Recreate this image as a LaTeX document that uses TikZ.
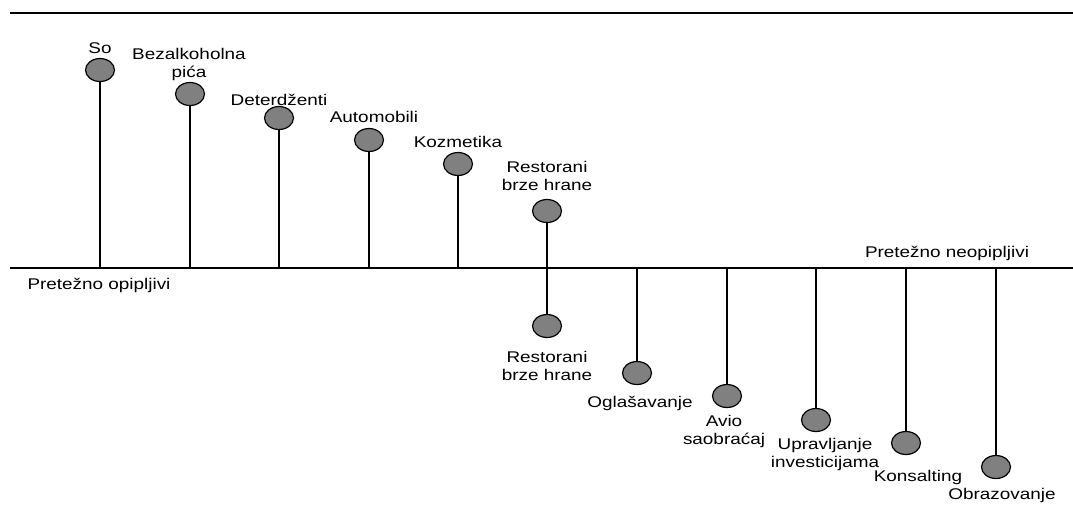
\documentclass[tikz,border=0pt]{standalone}
\usepackage{fontspec}
\setmainfont{Liberation Sans}
\usetikzlibrary{shapes.geometric}
\newcommand\sx[1]{\scalebox{1.22}[1]{#1}}
\begin{document}
\begin{tikzpicture}[x=1pt,y=-1pt,
  dot/.style={ellipse,draw=black,fill=gray,line width=1.2pt,minimum width=29pt,minimum height=23pt,inner sep=0pt},
  lab/.style={inner sep=0pt,font=\fontsize{15.5}{18}\selectfont,align=center},
  stem/.style={line width=1.2pt}]
\useasboundingbox (0,0) rectangle (1073,515);
% frame lines
\coordinate (tl) at (10,13);
\coordinate (tr) at (1073,13);
\coordinate (al) at (10,268);
\coordinate (ar) at (1073,268);
\draw[stem] (tl) -- (tr);
\draw[stem] (al) -- (ar);
% upper items
\foreach \n/\x/\y in {1/100/70,2/190/94,3/279/118,4/369/140,5/458/164,6/547/211}{
  \node[dot] (c\n) at (\x,\y) {};
  \coordinate (a\n) at (\x,268);
  \draw[stem] (c\n.south) -- (a\n);
}
% lower items
\foreach \n/\x/\y in {7/547/326,8/637/373,9/727/396,10/816/420,11/906/443,12/996/467}{
  \coordinate (a\n) at (\x,268);
  \draw[stem] (a\n) -- (\x,\y-11.5);
  \node[dot] (c\n) at (\x,\y) {};
}
% labels
\node[lab] (l1) at (100,48) {\sx{So}};
\node[lab] (l2) at (189,64) {\sx{Bezalkoholna}\\\sx{pića}};
\node[lab] (l3) at (279,100) {\sx{Deterdženti}};
\node[lab] (l4) at (374,117) {\sx{Automobili}};
\node[lab] (l5) at (458,142) {\sx{Kozmetika}};
\node[lab] (l6) at (547,176) {\sx{Restorani}\\\sx{brze hrane}};
\node[lab] (l7) at (547,366) {\sx{Restorani}\\\sx{brze hrane}};
\node[lab] (l8) at (640,403) {\sx{Oglašavanje}};
\node[lab] (l9) at (724,431) {\sx{Avio}\\\sx{saobraćaj}};
\node[lab] (l10) at (825,454) {\sx{Upravljanje}\\\sx{investicijama}};
\node[lab] (l11) at (918,477) {\sx{Konsalting}};
\node[lab] (l12) at (1002,495) {\sx{Obrazovanje}};
\node[lab] (pl) at (99,285) {\sx{Pretežno opipljivi}};
\node[lab] (pn) at (947,253) {\sx{Pretežno neopipljivi}};
\end{tikzpicture}
\end{document}
